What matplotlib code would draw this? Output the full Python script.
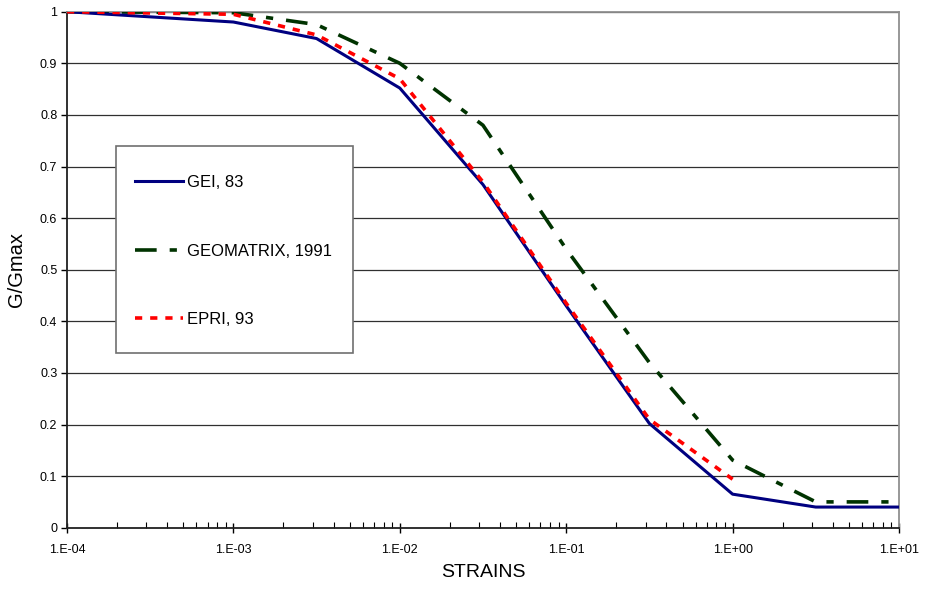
import matplotlib
matplotlib.use('Agg')
import matplotlib.pyplot as plt
import numpy as np
from matplotlib.patches import Rectangle

plt.rcParams['font.family'] = ['Liberation Sans', 'DejaVu Sans']

strain = [1e-4, 1e-3, 3.16e-3, 1e-2, 3.16e-2, 1e-1, 3.16e-1, 1e0, 3.16e0, 1e1]
gei = [1.0, 0.98, 0.948, 0.852, 0.665, 0.43, 0.202, 0.065, 0.040, 0.040]
geomatrix = [1.0, 0.998, 0.975, 0.90, 0.78, 0.54, 0.32, 0.131, 0.05, 0.05]
epri_strain = [1e-4, 1e-3, 3.16e-3, 1e-2, 3.16e-2, 1e-1, 3.16e-1, 1e0]
epri = [1.0, 0.995, 0.955, 0.87, 0.67, 0.435, 0.21, 0.094]

xticks = [1e-4, 1e-3, 1e-2, 1e-1, 1e0, 1e1]
xticklabels = ['1.E-04', '1.E-03', '1.E-02', '1.E-01', '1.E+00', '1.E+01']
yticks = [0, 0.1, 0.2, 0.3, 0.4, 0.5, 0.6, 0.7, 0.8, 0.9, 1]
yticklabels = ['0', '0.1', '0.2', '0.3', '0.4', '0.5', '0.6', '0.7', '0.8', '0.9', '1']

fig = plt.figure(figsize=(9.37, 5.92), dpi=100)
ax = fig.add_axes([67/937, 1-527.7/592, 832/937, 516/592])

for y in yticks[1:]:
    ax.axhline(y, color='#303030', lw=0.9, zorder=1)

ax.semilogx(strain, gei, color='#000080', lw=2.2, label='GEI, 83', zorder=4)
ax.semilogx(strain, geomatrix, color='#003300', lw=2.6,
            dashes=(6, 3.6, 2, 3.6), label='GEOMATRIX, 1991', zorder=3)
ax.semilogx(epri_strain, epri, color='#ff0000', lw=2.6,
            dashes=(2, 2.2), label='EPRI, 93', zorder=5)

ax.set_xlim(1e-4, 1e1)
ax.set_ylim(0, 1)
ax.set_xticks(xticks)
ax.set_xticklabels(xticklabels, fontsize=9)
ax.set_yticks(yticks)
ax.set_yticklabels(yticklabels, fontsize=9)
ax.tick_params(axis='x', which='major', direction='inout', length=7, width=1, pad=8)
ax.tick_params(axis='x', which='minor', direction='in', length=4, width=0.8)
ax.tick_params(axis='y', direction='out', length=4, width=1, pad=3)

for s in ['left', 'bottom']:
    ax.spines[s].set_color('#202020')
    ax.spines[s].set_linewidth(1.3)
for s in ['right', 'top']:
    ax.spines[s].set_color('#909090')
    ax.spines[s].set_linewidth(1.3)

ax.set_xlabel('STRAINS', fontsize=14, labelpad=6)
ax.set_ylabel('G/Gmax', fontsize=14.5, labelpad=10)

# legend box drawn separately so the entries can sit where Excel put them
box = Rectangle((0.0589, 0.3386), 0.2849, 0.4012, transform=ax.transAxes,
                facecolor='white', edgecolor='#707070', lw=1.2, zorder=6)
ax.add_patch(box)
leg = ax.legend(loc='upper left', bbox_to_anchor=(0.0817, 0.683),
                fontsize=12, frameon=False, handlelength=2.9,
                handletextpad=0.2, labelspacing=3.2, borderpad=0,
                borderaxespad=0)
leg.set_zorder(7)

fig.savefig('out.png', dpi=100)
